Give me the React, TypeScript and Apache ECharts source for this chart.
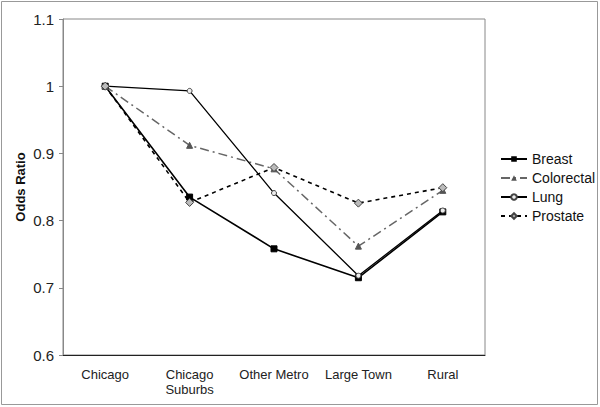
import React, { useEffect, useRef } from "react";
import * as echarts from "echarts";

const categories = ["Chicago", "Chicago\nSuburbs", "Other Metro", "Large Town", "Rural"];
const breast = [1.0, 0.835, 0.758, 0.715, 0.813];
const colorectal = [1.0, 0.912, 0.877, 0.762, 0.845];
const lung = [1.0, 0.993, 0.841, 0.718, 0.815];
const prostate = [1.0, 0.827, 0.879, 0.826, 0.849];
const yTicks = { min: 0.6, max: 1.1, interval: 0.1 };

export default function App() {
  const ref = useRef<HTMLDivElement>(null);
  useEffect(() => {
    document.body.style.margin = "0";
    const chart = echarts.init(ref.current!, null, { renderer: "svg" });
    const font = "'Liberation Sans', Arial, sans-serif";
    chart.setOption({
      animation: false,
      backgroundColor: "#fff",
      textStyle: { fontFamily: font },
      grid: {
        left: 63, top: 19, width: 422, height: 336,
        show: true, borderColor: "#888", borderWidth: 1,
      },
      xAxis: {
        type: "category",
        data: categories,
        boundaryGap: true,
        axisLine: { lineStyle: { color: "#222", width: 1 } },
        axisTick: { inside: true, length: 3, lineStyle: { color: "#222" } },
        axisLabel: { color: "#222", fontSize: 13, fontFamily: font, margin: 12, lineHeight: 15, interval: 0 },
      },
      yAxis: {
        type: "value",
        min: yTicks.min, max: yTicks.max, interval: yTicks.interval,
        name: "Odds Ratio",
        nameLocation: "middle",
        nameGap: 36,
        nameMoveOverlap: false,
        nameRotate: 90,
        nameTextStyle: { fontWeight: "bold", fontSize: 13, color: "#111", fontFamily: font },
        splitLine: { show: false },
        axisLine: { show: true, lineStyle: { color: "#888" } },
        axisTick: { show: true, length: 4, lineStyle: { color: "#888" } },
        axisLabel: { color: "#222", fontSize: 15, fontFamily: font, margin: 9,
          formatter: (v: number) => String(Math.round(v * 10) / 10) },
      },
      legend: {
        orient: "vertical",
        left: 495, top: 147,
        itemWidth: 26, itemHeight: 7, itemGap: 5,
        textStyle: { fontSize: 14, color: "#111", fontFamily: font },
        data: ["Breast", "Colorectal", "Lung", "Prostate"],
      },
      series: [
        {
          name: "Breast", type: "line", data: breast,
          symbol: "rect", symbolSize: 6,
          itemStyle: { color: "#000", borderColor: "#000" },
          lineStyle: { color: "#000", width: 1.6 },
        },
        {
          name: "Colorectal", type: "line", data: colorectal,
          symbol: "triangle", symbolSize: 6,
          itemStyle: { color: "#555", borderColor: "#555" },
          lineStyle: { color: "#666", width: 1.5, type: [9, 4, 2, 4] },
        },
        {
          name: "Lung", type: "line", data: lung,
          symbol: "circle", symbolSize: 5,
          itemStyle: { color: "#eee", borderColor: "#444", borderWidth: 1 },
          lineStyle: { color: "#000", width: 1.3 },
        },
        {
          name: "Prostate", type: "line", data: prostate,
          symbol: "diamond", symbolSize: 8,
          itemStyle: { color: "#bbb", borderColor: "#444", borderWidth: 1 },
          lineStyle: { color: "#000", width: 1.6, type: [4, 4] },
        },
      ],
      graphic: [
        { type: "rect", shape: { x: 1.5, y: 1.5, width: 596, height: 403 },
          style: { fill: "none", stroke: "#999", lineWidth: 1 }, silent: true },
      ],
    });
    return () => chart.dispose();
  }, []);
  return <div ref={ref} style={{ width: 600, height: 407 }} />;
}
